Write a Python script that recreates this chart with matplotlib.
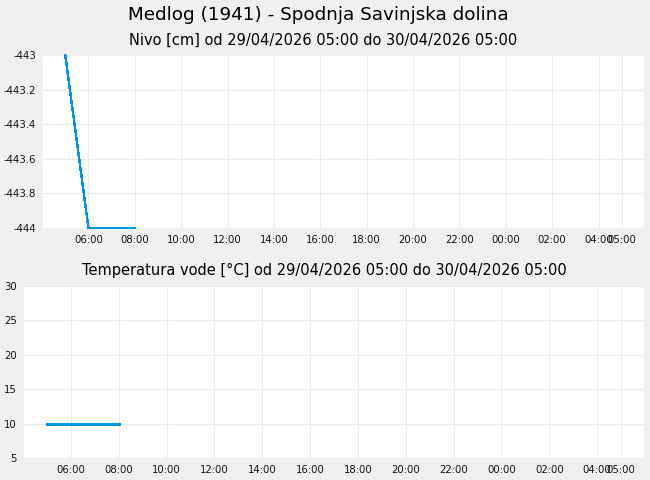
import matplotlib
matplotlib.use('Agg')
import matplotlib.pyplot as plt
import matplotlib.dates as mdates
from datetime import datetime, timedelta

# hourly readings
level_times = ['2026-04-29 05:00', '2026-04-29 06:00', '2026-04-29 07:00', '2026-04-29 08:00']
level_values = [-443.0, -444.0, -444.0, -444.0]

temp_times = ['2026-04-29 05:00', '2026-04-29 06:00', '2026-04-29 07:00', '2026-04-29 08:00']
temp_values = [10.0, 10.0, 10.0, 10.0]

start = datetime(2026, 4, 29, 5, 0)
end = datetime(2026, 4, 30, 5, 0)

title = 'Medlog (1941) - Spodnja Savinjska dolina'
level_title = 'Nivo [cm] od 29/04/2026 05:00 do 30/04/2026 05:00'
temp_title = 'Temperatura vode [°C] od 29/04/2026 05:00 do 30/04/2026 05:00'

line_color = '#0095e6'
bg = '#f0f0f0'
grid_color = '#ebebeb'


def parse(ts):
    return [datetime.strptime(t, '%Y-%m-%d %H:%M') for t in ts]


def style_axis(ax):
    ax.set_facecolor('white')
    for s in ax.spines.values():
        s.set_visible(False)
    ax.grid(True, color=grid_color, lw=0.8)
    ax.set_axisbelow(True)
    ax.tick_params(length=0, labelsize=7.3, colors='#111111', pad=5)
    pad = (end - start) * 0.04
    ax.set_xlim(start - pad, end + pad)
    ticks = [start + timedelta(hours=h) for h in range(1, 24, 2)] + [end]
    ax.set_xticks(ticks)
    ax.xaxis.set_major_formatter(mdates.DateFormatter('%H:%M'))


fig = plt.figure(figsize=(6.5, 4.8), dpi=100, facecolor=bg)
fig.text(0.489, 0.969, title, ha='center', va='center', fontsize=13.2)
fig.text(0.497, 0.917, level_title, ha='center', va='center', fontsize=10.5)
fig.text(0.499, 0.437, temp_title, ha='center', va='center', fontsize=10.5)

ax1 = fig.add_axes([43 / 650, 1 - 228 / 480, 601 / 650, 173 / 480])
ax2 = fig.add_axes([24 / 650, 1 - 458 / 480, 620 / 650, 172 / 480])

style_axis(ax1)
ax1.plot(parse(level_times), level_values, color=line_color, lw=1.0, clip_on=False, antialiased=False)
ax1.set_ylim(-444, -443)
ax1.set_yticks([-444, -443.8, -443.6, -443.4, -443.2, -443])
ax1.set_yticklabels(['-444', '-443.8', '-443.6', '-443.4', '-443.2', '-443'])

style_axis(ax2)
ax2.plot(parse(temp_times), temp_values, color=line_color, lw=2, antialiased=False)
ax2.set_ylim(5, 30)
ax2.set_yticks([5, 10, 15, 20, 25, 30])

fig.savefig('out.png', dpi=100, facecolor=bg)
